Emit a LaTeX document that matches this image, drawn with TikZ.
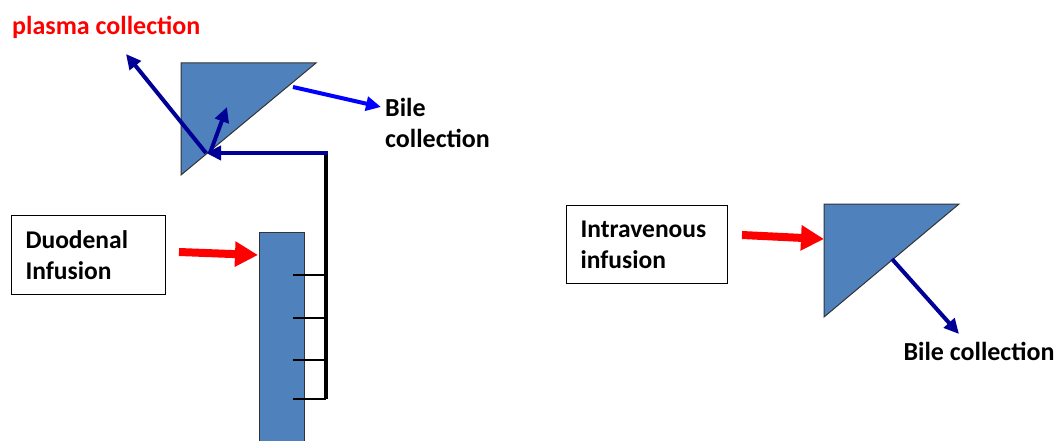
\documentclass[tikz,border=0pt]{standalone}
\usepackage{fontspec}
\setmainfont{Carlito}
\usetikzlibrary{arrows.meta}
\definecolor{organ}{HTML}{4F81BD}
\definecolor{navyline}{RGB}{0,0,150}
\definecolor{bileblue}{RGB}{0,0,255}
\definecolor{infred}{RGB}{255,0,0}
\begin{document}
\begin{tikzpicture}[x=1pt,y=-1pt,
  lbl/.style={font=\fontsize{26}{31}\selectfont\bfseries, inner sep=0pt, anchor=base west, align=left},
  labelbox/.style={draw=black, line width=1pt, rectangle, inner xsep=14pt, inner ysep=0pt,
    anchor=north west, font=\fontsize{25.5}{31}\selectfont\bfseries, align=left},
  organ/.style={fill=organ, draw=black!80, line width=1pt, line join=miter},
  navyarrow/.style={draw=navyline, line width=4pt, -{Triangle[length=15pt,width=14pt]}},
  bilearrow/.style={draw=bileblue, line width=4pt, -{Triangle[length=15pt,width=14pt]}},
  redarrow/.style={draw=infred, line width=8pt, -{Triangle[length=23pt,width=24pt]}},
  duct/.style={draw=black, line width=1.3pt},
]
\useasboundingbox (0,0) rectangle (1057,441);

% ---- liver (left) ----
\coordinate (L1) at (181,63);
\coordinate (L2) at (316,63);
\coordinate (L3) at (181,175);
\path[organ] (L1) -- (L2) -- (L3) -- cycle;

% ---- intestine segment ----
\path[organ] (259,448) -- (259,232) -- (304,232) -- (304,448);

% ---- mesenteric collecting line ----
\coordinate (m0) at (326,153);
\coordinate (m4) at (326,399);
\foreach \y [count=\i] in {275,318,360,399} {
  \coordinate (t\i) at (293,\y);
  \coordinate (s\i) at (326,\y);
  \draw[duct] (t\i) -- (s\i);
}
\draw[draw=black, line width=3.5pt] (m0) -- (m4);

% ---- portal inflow into the liver ----
\coordinate (portal) at (206,153);
\draw[navyarrow] (327.5,153) -- (portal);
\coordinate (plasma) at (126,54);
\draw[navyarrow] (portal) -- (plasma);
\coordinate (inner) at (227,107);
\draw[navyarrow] (210,153) -- (inner);

% ---- bile collection (left) ----
\coordinate (bileL0) at (293,87);
\coordinate (bileL1) at (381,107);
\draw[bilearrow] (bileL0) -- (bileL1);

% ---- labels (left) ----
\node[lbl, text=infred] (plasmalbl) at (12,35) {plasma collection};
\node[lbl] (bilelblL) at (385,147) {Bile\\collection};
\node[labelbox, minimum width=154pt, minimum height=79pt, text width=126pt] (duo) at (11,215) {Duodenal\\Infusion};
\coordinate (duoTail) at (179,252);
\draw[redarrow] (duoTail) -- (258,255);

% ---- right liver ----
\coordinate (R1) at (824,204);
\coordinate (R2) at (959,204);
\coordinate (R3) at (824,317);
\path[organ] (R1) -- (R2) -- (R3) -- cycle;

\node[labelbox, minimum width=161pt, minimum height=78pt, text width=133pt] (iv) at (566,205) {Intravenous\\infusion};
\coordinate (ivTail) at (742,235);
\coordinate (ivTip) at (824,239);
\draw[redarrow] (ivTail) -- (ivTip);

\coordinate (bileR0) at (892,259);
\coordinate (bileR1) at (959,334);
\draw[navyarrow] (bileR0) -- (bileR1);
\node[lbl, anchor=base] (bilelblR) at (979,360) {Bile collection};
\end{tikzpicture}
\end{document}
